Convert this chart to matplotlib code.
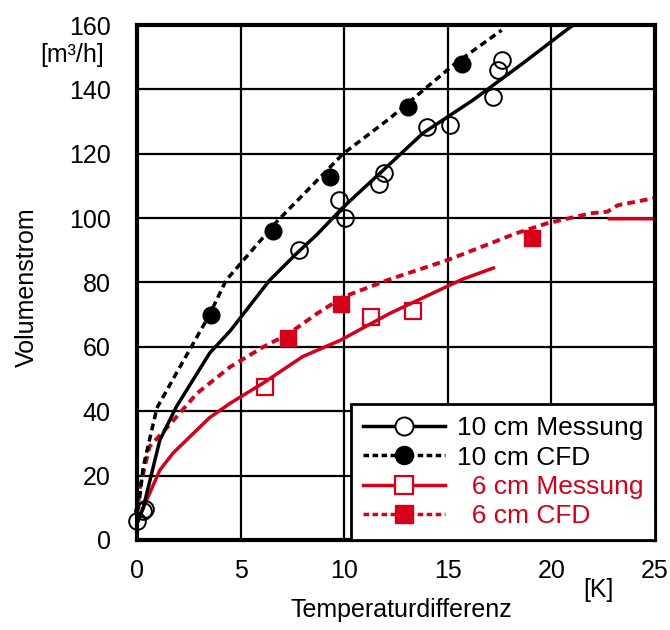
import numpy as np
import matplotlib.pyplot as plt
from matplotlib.lines import Line2D

plt.rcParams['font.family'] = ['Liberation Sans', 'DejaVu Sans']

RED = '#d7001a'

# Kurven (Linien)
x_10_mess_line = [0.0, 0.3, 1.1, 1.9, 3.5, 4.5, 6.4, 7.7, 8.7, 9.95, 11.9, 13.8, 16.2, 18.6, 20.9, 21.2]
y_10_mess_line = [5, 10, 31, 41.4, 58, 65, 80.7, 89, 95, 103.4, 115, 126.4, 136.6, 148, 159.3, 160.5]

x_10_cfd_line = [0.0, 0.3, 0.96, 1.74, 3.5, 4.3, 6.76, 9.95, 12.2, 15.25, 17.6]
y_10_cfd_line = [6, 22.7, 41, 50, 70, 80.7, 99, 120, 131, 147.5, 158.4]

x_6_mess_line = [0.0, 0.3, 1.1, 1.74, 3.5, 4.5, 6.1, 8.0, 9.8, 12.2, 15.7, 17.2, np.nan, 22.8, 25.0]
y_6_mess_line = [6, 10, 21.7, 27, 38, 42.5, 48.8, 57, 62, 70.4, 81, 84.5, np.nan, 99.8, 99.8]

x_6_cfd_line = [0.0, 0.15, 0.6, 1.6, 2.9, 4.5, 6.1, 7.3, 8.7, 9.95, 12.2, 15.0, 17.0, 18.3, 19.8, 21.9, 22.7, 23.2, 24.8, 25.0]
y_6_cfd_line = [8, 16.5, 29, 36, 45.6, 53.8, 60, 64, 70.4, 75.5, 81, 87, 92, 95.3, 98.4, 101.5, 102, 104, 106, 106.3]

# Messpunkte / CFD-Punkte
x_10_mess = [0.0, 0.3, 0.4, 7.8, 9.75, 10.05, 11.7, 11.9, 14.0, 15.1, 17.2, 17.4, 17.6]
y_10_mess = [6, 9, 9.5, 90, 105.6, 100, 110.5, 114, 128.3, 129, 137.6, 146, 149]

x_10_cfd = [3.55, 6.55, 9.3, 13.1, 15.7]
y_10_cfd = [70, 96, 112.7, 134.5, 148]

x_6_mess = [6.2, 11.3, 13.3]
y_6_mess = [47.5, 69.3, 71]

x_6_cfd = [7.3, 9.85, 19.05]
y_6_cfd = [62.7, 73.3, 93.8]

labels = ['10 cm Messung', '10 cm CFD', '  6 cm Messung', '  6 cm CFD']

fig = plt.figure(figsize=(6.7, 6.3), dpi=100)
ax = fig.add_axes([0.2045, 0.1429, 0.7731, 0.8174])

lw = 2.5
dash = (0, (2.0, 1.3))
ax.plot(x_6_mess_line, y_6_mess_line, color=RED, lw=lw)
ax.plot(x_6_cfd_line, y_6_cfd_line, color=RED, lw=lw + 0.3, ls=dash)
ax.plot(x_10_mess_line, y_10_mess_line, color='black', lw=lw)
ax.plot(x_10_cfd_line, y_10_cfd_line, color='black', lw=lw, ls=dash)

ms = 12
ax.plot(x_10_mess, y_10_mess, 'o', ms=ms, mfc='none', mec='black', mew=1.4, clip_on=False)
ax.plot(x_10_cfd, y_10_cfd, 'o', ms=ms, mfc='black', mec='black', clip_on=False)
ax.plot(x_6_mess, y_6_mess, 's', ms=ms, mfc='none', mec=RED, mew=1.6, clip_on=False)
ax.plot(x_6_cfd, y_6_cfd, 's', ms=ms, mfc=RED, mec=RED, clip_on=False)

ax.set_xlim(0, 25)
ax.set_ylim(0, 160)
ax.set_xticks(np.arange(0, 26, 5))
ax.set_yticks(np.arange(0, 161, 20))
ax.grid(True, color='black', lw=1.6)
ax.set_axisbelow(True)
for s in ax.spines.values():
    s.set_linewidth(3)
fs = 18
ax.tick_params(length=0, labelsize=fs, pad=14)
ax.tick_params(axis='y', pad=19)

ax.set_ylabel('Volumenstrom', fontsize=fs)
ax.yaxis.set_label_coords(-0.19, 0.49)
ax.set_xlabel('Temperaturdifferenz', fontsize=fs)
ax.xaxis.set_label_coords(0.51, -0.112)
fig.text(0.107, 0.931, '[m³/h]', fontsize=fs, ha='center', va='top')
fig.text(0.893, 0.063, '[K]', fontsize=fs, ha='center', va='center')

handles = [
    Line2D([], [], color='black', lw=lw, marker='o', ms=13, mfc='white', mec='black', mew=1.4),
    Line2D([], [], color='black', lw=lw, ls=(0, (1.6, 1.0)), marker='o', ms=13, mfc='black', mec='black'),
    Line2D([], [], color=RED, lw=lw, marker='s', ms=13, mfc='white', mec=RED, mew=1.6),
    Line2D([], [], color=RED, lw=lw, ls=(0, (1.6, 1.0)), marker='s', ms=13, mfc=RED, mec=RED),
]
leg = ax.legend(handles, labels, loc='lower right', bbox_to_anchor=(1.0, 0.0),
                fontsize=19, handlelength=3.1, handletextpad=0.45, labelspacing=0.2,
                borderpad=0.45, borderaxespad=0.0, fancybox=False, framealpha=1,
                edgecolor='black')
leg.get_frame().set_linewidth(2)
for t, c in zip(leg.get_texts(), ['black', 'black', RED, RED]):
    t.set_color(c)

fig.savefig('out.png', dpi=100)
